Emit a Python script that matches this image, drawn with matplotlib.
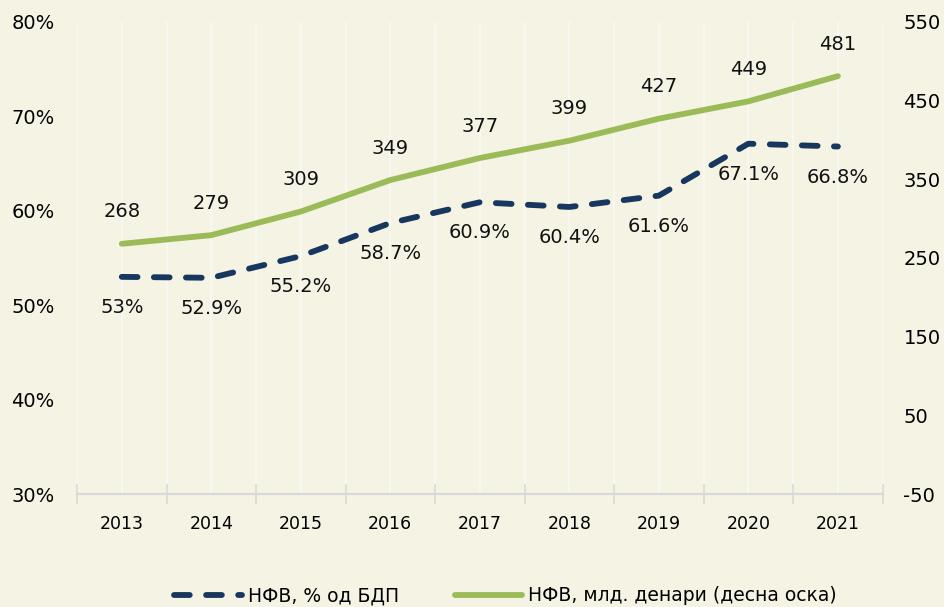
import matplotlib
matplotlib.use("Agg")
from matplotlib import pyplot as plt
from matplotlib.ticker import FuncFormatter, MultipleLocator

years = ["2013", "2014", "2015", "2016", "2017", "2018", "2019", "2020", "2021"]
pct_gdp = [53.0, 52.9, 55.2, 58.7, 60.9, 60.4, 61.6, 67.1, 66.8]
bn_denars = [268, 279, 309, 349, 377, 399, 427, 449, 481]
pct_labels = ["53%", "52.9%", "55.2%", "58.7%", "60.9%", "60.4%", "61.6%", "67.1%", "66.8%"]
right_ticks = [-50, 50, 150, 250, 350, 450, 550]

bg = "#F5F3E4"
navy = "#17375E"
green = "#9BBB59"

plt.rcParams['font.family'] = ['DejaVu Sans']
plt.rcParams['axes.unicode_minus'] = False
fig = plt.figure(figsize=(9.45, 6.07), dpi=100, facecolor=bg)
ax = fig.add_axes([0.0815, 0.186, 0.8525, 0.778], facecolor=bg)
ax2 = ax.twinx()

x = list(range(len(years)))

# gridlines every half category, like the excel original
for g in [i * 0.5 - 0.5 for i in range(19)]:
    ax.axvline(g, color="#F9F9F6", lw=1.2, zorder=0)

ax.plot(x, pct_gdp, color=navy, lw=4.2, linestyle=(0, (2.7, 2.8)),
        dash_capstyle="round", solid_capstyle="round", label="НФВ, % од БДП", zorder=3)
ax2.plot(x, bn_denars, color=green, lw=4.2, solid_capstyle="round",
         label="НФВ, млд. денари (десна оска)", zorder=3)

for xi, v, t in zip(x, pct_gdp, pct_labels):
    ax.annotate(t, (xi, v), xytext=(0, -22), textcoords="offset points",
                ha="center", va="center", fontsize=14, color="#111111")
for xi, v in zip(x, bn_denars):
    ax2.annotate(str(v), (xi, v), xytext=(0, 23), textcoords="offset points",
                 ha="center", va="center", fontsize=14, color="#111111")

ax.set_xlim(-0.5, 8.5)
ax.set_ylim(30, 80)
ax.yaxis.set_major_locator(MultipleLocator(10))
ax.yaxis.set_major_formatter(FuncFormatter(lambda v, p: "%d%%" % v))
ax2.set_ylim(-50, 550)
ax2.set_yticks(right_ticks)

ax.set_xticks([i - 0.5 for i in range(10)])
ax.set_xticklabels([])
ax.set_xticks(x, minor=True)
ax.set_xticklabels(years, minor=True, fontsize=12.5)
ax.tick_params(axis="x", which="major", length=14, width=1.2, color="#D9D9D9", direction="inout")
ax.tick_params(axis="x", which="minor", length=0, pad=15)
ax.tick_params(axis="y", length=0, labelsize=14, pad=16)
ax2.tick_params(axis="y", length=0, labelsize=14, pad=15)

for a in (ax, ax2):
    for s in ("top", "left", "right", "bottom"):
        a.spines[s].set_visible(False)
ax.spines["bottom"].set_visible(True)
ax.spines["bottom"].set_color("#D9D9D9")
ax.spines["bottom"].set_linewidth(1.6)

h1, l1 = ax.get_legend_handles_labels()
h2, l2 = ax2.get_legend_handles_labels()
fig.legend(h1 + h2, l1 + l2, loc="lower center", ncol=2, frameon=False,
           fontsize=13.5, bbox_to_anchor=(0.535, -0.025), handlelength=3.6,
           handletextpad=0.3, columnspacing=3.0)

fig.savefig("out.png", dpi=100, facecolor=bg)
